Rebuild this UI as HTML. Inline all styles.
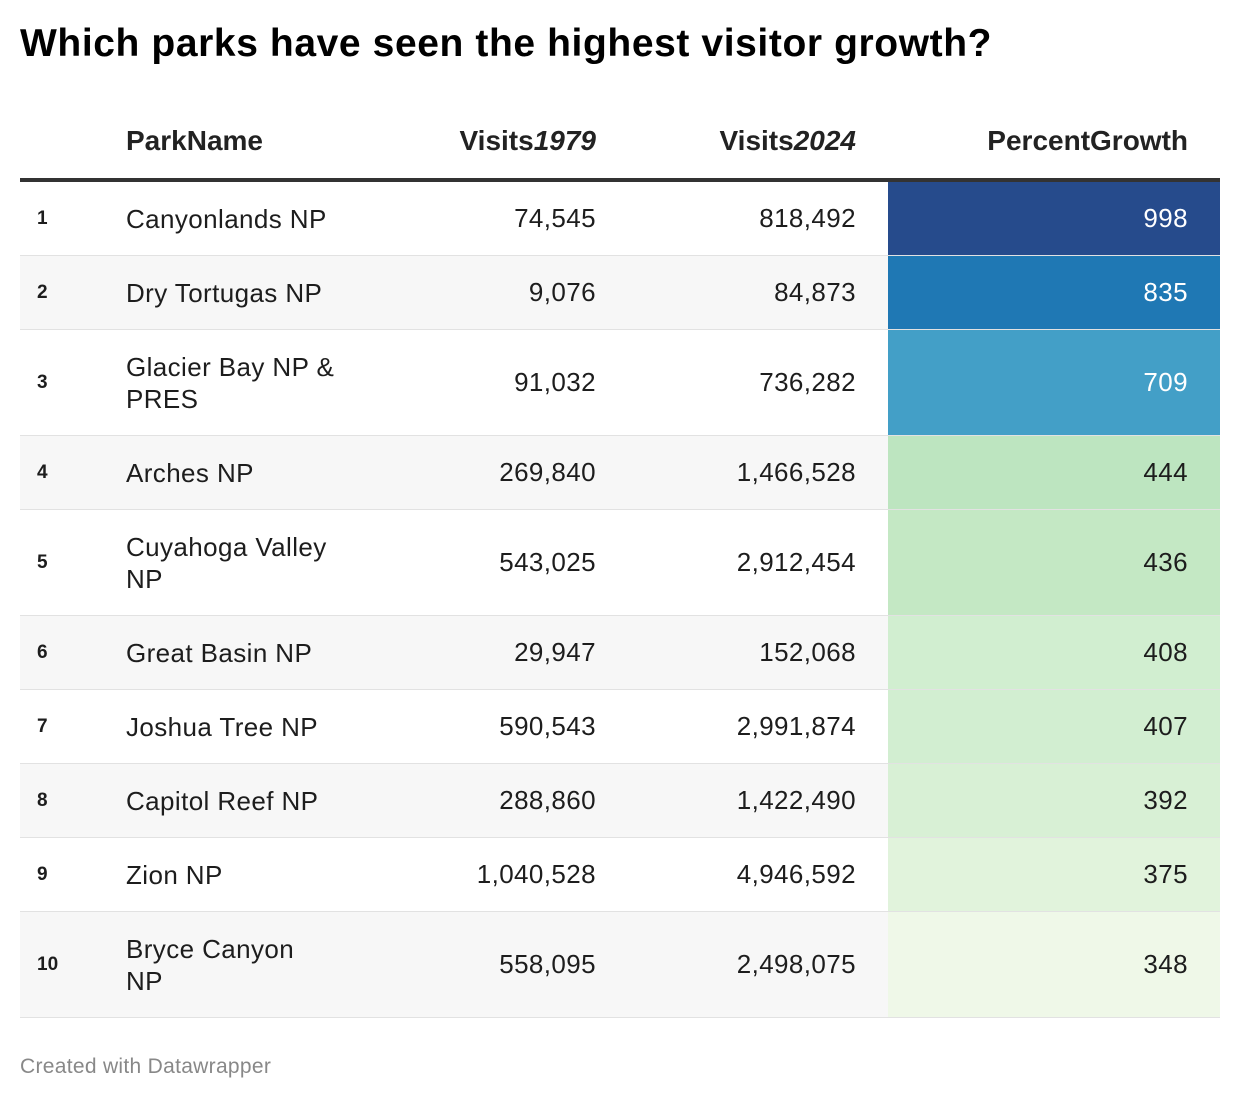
<!DOCTYPE html>
<html><head><meta charset="utf-8">
<style>
body{margin:0;width:1240px;height:1102px;background:#fff;font-family:"Liberation Sans",sans-serif;color:#1d1d1d;position:relative;overflow:hidden}
.abs{position:absolute}
#title{left:20px;top:22px;font-size:39px;font-weight:bold;color:#000;letter-spacing:0.6px}
.hdr{top:125px;font-size:28px;font-weight:bold;color:#222;letter-spacing:0px}
.row{position:absolute;left:20px;width:1200px;border-bottom:1px solid #e2e2e2;box-sizing:border-box}
.cell{position:absolute;top:0;height:100%;display:flex;align-items:center;font-size:26px;letter-spacing:0.4px}
#footer{left:20px;top:1055px;font-size:21px;color:#888;letter-spacing:0.3px}
</style></head><body>
<div id="title" class="abs">Which parks have seen the highest visitor growth?</div>
<div class="abs hdr" style="left:126px">ParkName</div>
<div class="abs hdr" style="right:644px">Visits<i>1979</i></div>
<div class="abs hdr" style="right:384px">Visits<i>2024</i></div>
<div class="abs hdr" style="right:52px">PercentGrowth</div>
<div class="abs" style="left:20px;top:178px;width:1200px;height:4px;background:#333"></div>
<div id="table"></div>
<div id="footer" class="abs">Created with Datawrapper</div>
<script>
const ranks=[1,2,3,4,5,6,7,8,9,10];
const parkLines=[["Canyonlands NP"],["Dry Tortugas NP"],["Glacier Bay NP &","PRES"],["Arches NP"],["Cuyahoga Valley","NP"],["Great Basin NP"],["Joshua Tree NP"],["Capitol Reef NP"],["Zion NP"],["Bryce Canyon","NP"]];
const visits1979=[74545,9076,91032,269840,543025,29947,590543,288860,1040528,558095];
const visits2024=[818492,84873,736282,1466528,2912454,152068,2991874,1422490,4946592,2498075];
const growth=[998,835,709,444,436,408,407,392,375,348];
const growthColors=["#264b8c","#1f78b4","#439fc7","#bde5c0","#c4e8c4","#d1eed0","#d2eed1","#d8f0d5","#e1f3dc","#eff8e8"];
const fmt=n=>n.toLocaleString('en-US');
const tbl=document.getElementById('table');
let y=182;
for(let i=0;i<ranks.length;i++){
  const h=parkLines[i].length>1?106:74;
  const r=document.createElement('div');
  
  
  r.className='row';
  r.style.top=y+'px';r.style.height=h+'px';
  r.style.background=i%2?'#f7f7f7':'#fff';
  const white=i<3;
  r.innerHTML=
   `<div class="cell" style="left:17px;font-size:19px;font-weight:bold;letter-spacing:0">${ranks[i]}</div>`+
   `<div class="cell" style="left:106px;line-height:32px">${parkLines[i].join('<br>')}</div>`+
   `<div class="cell" style="right:624px">${fmt(visits1979[i])}</div>`+
   `<div class="cell" style="right:364px">${fmt(visits2024[i])}</div>`+
   `<div class="cell" style="left:868px;width:332px;justify-content:flex-end;box-sizing:border-box;padding-right:32px;background:${growthColors[i]};color:${white?'#fff':'#1d1d1d'}">${growth[i]}</div>`;
  tbl.appendChild(r);
  y+=h;
}
</script>
</body></html>
